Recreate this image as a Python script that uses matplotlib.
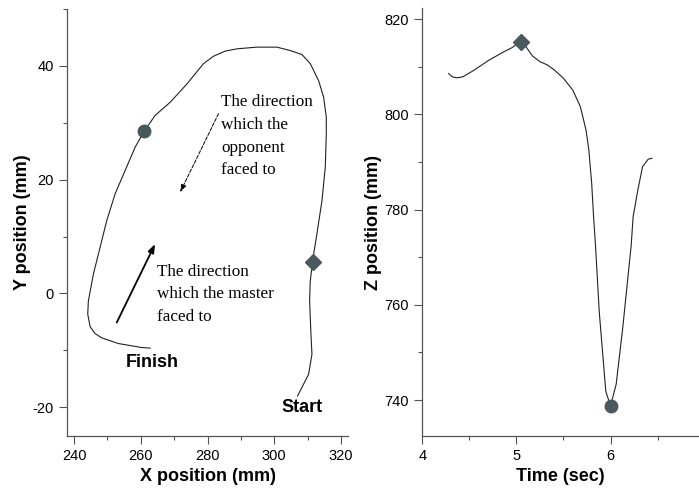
import matplotlib
matplotlib.use("Agg")
import matplotlib.pyplot as plt
from matplotlib.ticker import MultipleLocator

# left panel: horizontal path of the hand, Start -> Finish
path_x = [307.0, 310.3, 311.3, 311.0, 310.6, 310.8, 311.5, 311.8, 312.8, 314.3,
          315.3, 315.6, 315.6, 314.8, 313.3, 310.8, 308.3, 304.8, 300.8, 294.8,
          288.8, 285.3, 281.8, 278.8, 273.8, 268.8, 264.3, 261.0, 258.3, 255.3,
          252.3, 249.8, 247.8, 245.8, 244.3, 244.1, 244.8, 246.2, 248.3, 253.3,
          260.3, 262.8]
path_y = [-18.0, -14.2, -10.7, -7.1, -1.3, 2.2, 5.6, 6.9, 10.5, 16.3,
          22.2, 28.0, 31.0, 34.5, 37.4, 40.4, 42.0, 42.7, 43.3, 43.3,
          43.0, 42.6, 41.7, 40.4, 36.8, 33.6, 31.3, 28.5, 25.7, 21.6,
          17.5, 12.8, 8.1, 3.4, -1.3, -3.6, -5.8, -7.0, -7.8, -8.8,
          -9.5, -9.6]
path_diamond = (311.5, 5.6)
path_circle = (261.0, 28.5)

# right panel: vertical position over time
time_s = [4.28, 4.32, 4.37, 4.43, 4.55, 4.70, 4.85, 4.95, 5.05, 5.10,
          5.17, 5.25, 5.33, 5.40, 5.50, 5.60, 5.68, 5.74, 5.77, 5.80,
          5.82, 5.84, 5.88, 5.95, 6.00, 6.06, 6.13, 6.22, 6.24, 6.29,
          6.34, 6.40, 6.44]
z_pos = [808.6, 807.9, 807.7, 807.9, 809.3, 811.3, 813.0, 814.0, 815.3, 814.3,
         812.3, 811.1, 810.4, 809.4, 807.6, 805.1, 801.6, 796.7, 792.5, 785.5,
         778.5, 772.6, 758.6, 741.8, 738.8, 743.3, 755.2, 772.6, 778.5, 784.1,
         789.0, 790.6, 790.8]
z_diamond = (5.05, 815.3)
z_circle = (6.00, 738.8)

marker_color = "#4a5960"
spine_color = "#555555"
sans = "Liberation Sans"
serif = "Liberation Serif"

plt.rcParams["font.family"] = sans
plt.rcParams["axes.unicode_minus"] = False

fig = plt.figure(figsize=(6.99, 4.9), dpi=100)
ax1 = fig.add_axes([0.0959, 0.1108, 0.4024, 0.8708])
ax2 = fig.add_axes([0.6041, 0.1108, 0.3959, 0.8722])


def style(ax):
    for where in ["top", "right"]:
        ax.spines[where].set_visible(False)
    for where in ["left", "bottom"]:
        ax.spines[where].set_color(spine_color)
        ax.spines[where].set_linewidth(0.9)
    ax.tick_params(which="major", direction="out", length=6, width=0.8,
                   color=spine_color, labelsize=10.5, pad=3.5)
    ax.tick_params(which="minor", direction="out", length=3, width=0.8,
                   color=spine_color)


# ---- left panel ----
ax1.plot(path_x, path_y, color="#222222", lw=0.8)
ax1.plot(*path_diamond, marker="D", ms=8, color=marker_color, ls="none")
ax1.plot(*path_circle, marker="o", ms=9, color=marker_color, ls="none")

ax1.annotate("", xy=(264.3, 8.7), xytext=(252.8, -5.1),
             arrowprops=dict(arrowstyle="-|>,head_length=0.5,head_width=0.18",
                             color="black", lw=1.3, shrinkA=0, shrinkB=0))
ax1.annotate("", xy=(271.8, 17.8), xytext=(283.3, 31.6),
             arrowprops=dict(arrowstyle="-|>,head_length=0.45,head_width=0.15",
                             color="black", lw=0.7, ls="--",
                             shrinkA=0, shrinkB=0))

ax1.text(284.1, 35.0, "The direction\nwhich the\nopponent\nfaced to",
         family=serif, fontsize=12.3, linespacing=1.55, va="top", ha="left")
ax1.text(264.8, 5.2, "The direction\nwhich the master\nfaced to",
         family=serif, fontsize=12.3, linespacing=1.55, va="top", ha="left")
ax1.text(263.4, -12.1, "Finish", fontsize=13, fontweight="bold",
         ha="center", va="center")
ax1.text(308.2, -20.1, "Start", fontsize=13, fontweight="bold",
         ha="center", va="center")

ax1.set_xlim(237.9, 322.2)
ax1.set_ylim(-25, 50)
ax1.xaxis.set_major_locator(MultipleLocator(20))
ax1.xaxis.set_minor_locator(MultipleLocator(10))
ax1.yaxis.set_major_locator(MultipleLocator(20))
ax1.yaxis.set_minor_locator(MultipleLocator(10))
ax1.set_xlabel("X position (mm)", fontsize=13, fontweight="bold", labelpad=4)
ax1.set_ylabel("Y position (mm)", fontsize=13, fontweight="bold", labelpad=1)
style(ax1)

# ---- right panel ----
ax2.plot(time_s, z_pos, color="#222222", lw=0.8)
ax2.plot(*z_diamond, marker="D", ms=8, color=marker_color, ls="none")
ax2.plot(*z_circle, marker="o", ms=9, color=marker_color, ls="none")

ax2.set_xlim(4, 6.94)
ax2.set_ylim(732.5, 822.3)
ax2.xaxis.set_major_locator(MultipleLocator(1))
ax2.xaxis.set_minor_locator(MultipleLocator(0.5))
ax2.yaxis.set_major_locator(MultipleLocator(20))
ax2.yaxis.set_minor_locator(MultipleLocator(10))
ax2.set_xlabel("Time (sec)", fontsize=13, fontweight="bold", labelpad=4)
ax2.set_ylabel("Z position (mm)", fontsize=13, fontweight="bold", labelpad=2)
style(ax2)

fig.savefig("out.png", dpi=100)
